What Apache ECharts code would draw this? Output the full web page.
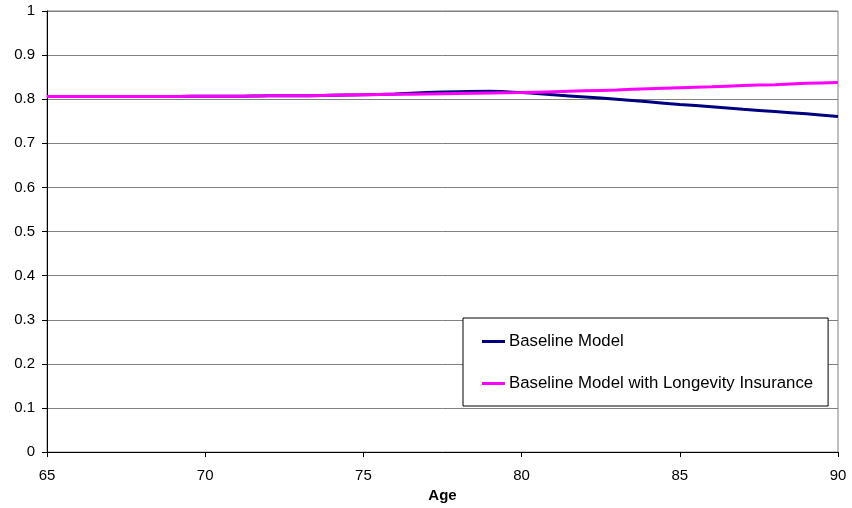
<!DOCTYPE html>
<html>
<head>
<meta charset="utf-8">
<script src="https://cdn.jsdelivr.net/npm/echarts@6/dist/echarts.min.js"></script>
<style>
  html, body { margin: 0; padding: 0; background: #fff; }
  #chart { width: 852px; height: 508px; }
</style>
</head>
<body>
<div id="chart"></div>
<script>
// Ages along the x axis
const ages = [65, 66, 67, 68, 69, 70, 71, 72, 73, 74, 75, 76, 77, 78, 79, 80, 81, 82, 83, 84, 85, 86, 87, 88, 89, 90];

// Series values by age
const baselineModel = [0.806, 0.806, 0.806, 0.806, 0.806, 0.807, 0.807, 0.808, 0.808, 0.809, 0.810, 0.812, 0.815, 0.817, 0.818, 0.815, 0.810, 0.805, 0.800, 0.794, 0.788, 0.783, 0.777, 0.772, 0.767, 0.761];
const withLongevityInsurance = [0.806, 0.806, 0.806, 0.806, 0.806, 0.807, 0.807, 0.808, 0.808, 0.809, 0.810, 0.811, 0.812, 0.813, 0.814, 0.815, 0.817, 0.819, 0.821, 0.824, 0.826, 0.828, 0.831, 0.833, 0.836, 0.838];

const seriesNames = ['Baseline Model', 'Baseline Model with Longevity Insurance'];

const pairs = (vals) => ages.map((a, i) => [a, vals[i]]);

const chart = echarts.init(document.getElementById('chart'), null, { renderer: 'canvas' });
const font = 'Liberation Sans, Arial, sans-serif';

chart.setOption({
  animation: false,
  backgroundColor: '#ffffff',
  textStyle: { fontFamily: font },
  grid: {
    left: 47, right: 14, top: 11, bottom: 54,
    show: true, borderColor: '#808080', borderWidth: 1
  },
  xAxis: {
    type: 'value', min: 65, max: 90, interval: 5,
    name: 'Age', nameLocation: 'middle', nameGap: 30,
    nameTextStyle: { fontFamily: font, fontSize: 15, fontWeight: 'bold', color: '#000' },
    axisLine: { show: true, onZero: false, lineStyle: { color: '#000', width: 1 } },
    axisTick: { show: true, inside: false, length: 5, lineStyle: { color: '#000' } },
    axisLabel: { fontFamily: font, fontSize: 15, color: '#000', margin: 16 },
    splitLine: { show: false }
  },
  yAxis: {
    type: 'value', min: 0, max: 1, interval: 0.1,
    axisLine: { show: true, lineStyle: { color: '#000', width: 1 } },
    axisTick: { show: true, inside: false, length: 5, lineStyle: { color: '#000' } },
    axisLabel: { fontFamily: font, fontSize: 15, color: '#000', margin: 12,
      formatter: (v) => String(Math.round(v * 10) / 10) },
    splitLine: { show: true, lineStyle: { color: '#808080', width: 1 } }
  },
  legend: {
    orient: 'vertical', left: 463, top: 318,
    padding: [15, 15, 14, 19],
    itemGap: 25, itemWidth: 23, itemHeight: 3,
    icon: 'rect',
    backgroundColor: '#fff', borderColor: '#000', borderWidth: 1,
    textStyle: { fontFamily: font, fontSize: 16.8, color: '#000', padding: [0, 0, 0, -1] },
    data: seriesNames
  },
  series: [
    {
      name: seriesNames[0], type: 'line', data: pairs(baselineModel),
      smooth: 0.3, showSymbol: false, symbol: 'none',
      lineStyle: { color: '#000080', width: 3 }, itemStyle: { color: '#000080' }
    },
    {
      name: seriesNames[1], type: 'line', data: pairs(withLongevityInsurance),
      smooth: 0.3, showSymbol: false, symbol: 'none',
      lineStyle: { color: '#ff00ff', width: 3 }, itemStyle: { color: '#ff00ff' }
    }
  ]
});
</script>
</body>
</html>
